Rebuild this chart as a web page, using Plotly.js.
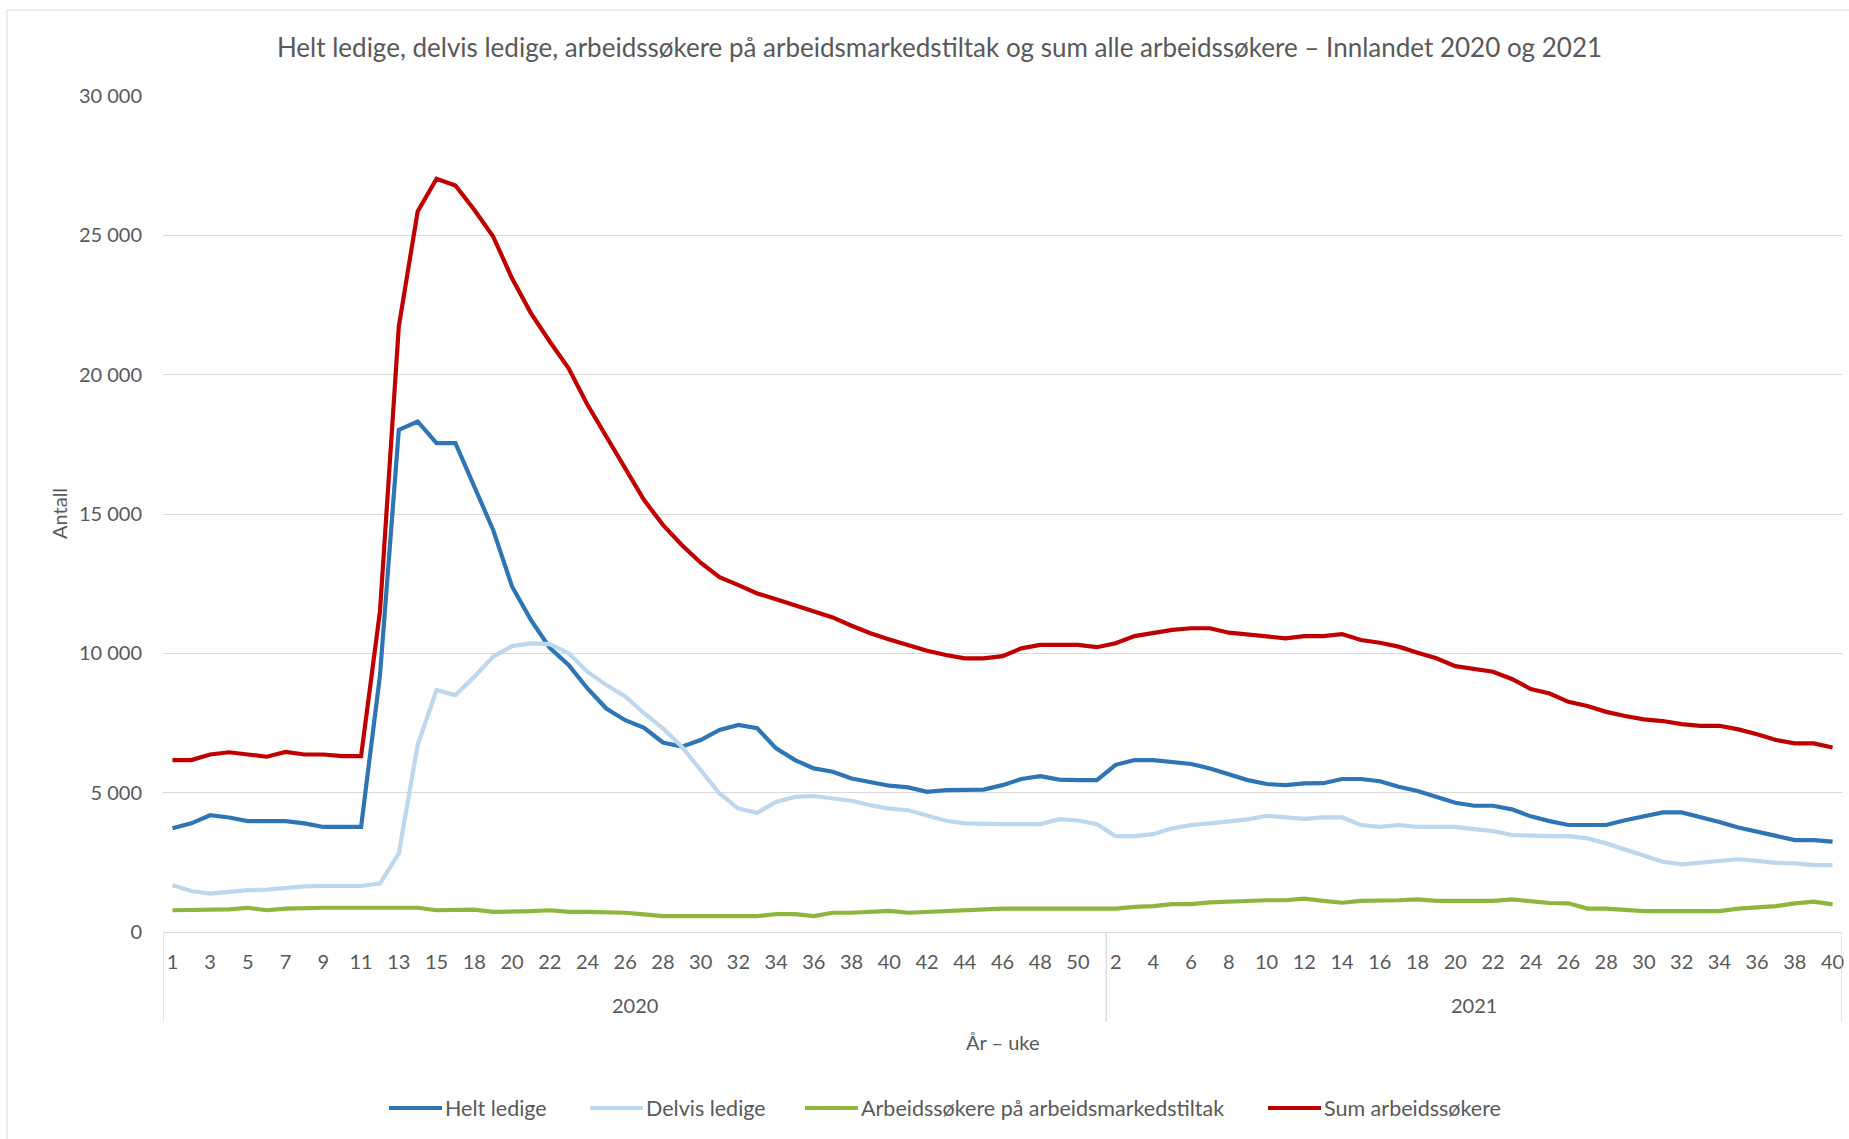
<!DOCTYPE html>
<html><head><meta charset="utf-8">
<script src="https://cdn.plot.ly/plotly-3.0.1.min.js"></script>
<style>html,body{margin:0;padding:0;background:#fff;} #chart{width:1849px;height:1139px;}</style>
</head><body><div id="chart"></div>
<script>
// ---------- data ----------
const years = ['2020', '2021'];
const weeks2020 = [1,2,3,4,5,6,7,8,9,10,11,12,13,14,15,16,18,19,20,21,22,23,24,25,26,27,28,29,30,31,32,33,34,35,36,37,38,39,40,41,42,43,44,45,46,47,48,49,50,51];
const weeks2021 = [2,3,4,5,6,7,8,9,10,11,12,13,14,15,16,17,18,19,20,21,22,23,24,25,26,27,28,29,30,31,32,33,34,35,36,37,38,39,40];

const heltLedige = [3720,3900,4190,4110,3980,3980,3980,3900,3770,3770,3770,9200,18020,18320,17540,17540,15980,14430,12400,11200,
  10200,9580,8740,8020,7600,7330,6800,6650,6890,7250,7430,7310,6590,6170,5870,5750,5510,5370,5250,5190,
  5030,5090,5110,5110,5270,5490,5590,5470,5450,5450,
  6000,6170,6170,6110,6030,5870,5670,5450,5310,5270,5330,5340,5490,5490,5410,5210,5060,4850,4640,4530,
  4530,4400,4150,3980,3840,3840,3840,4010,4160,4290,4290,4130,3950,3750,3600,3420,3300,3300,3240];

const delvisLedige = [1680,1470,1380,1440,1500,1520,1580,1640,1650,1650,1650,1740,2820,6710,8680,8500,9160,9880,10260,10360,
  10330,10000,9340,8860,8450,7850,7310,6650,5810,4970,4430,4280,4670,4850,4880,4790,4710,4550,4430,4370,
  4190,3990,3900,3870,3870,3870,3870,4050,4000,3870,
  3440,3440,3510,3720,3840,3900,3980,4040,4170,4110,4060,4110,4110,3840,3770,3840,3770,3770,3770,3690,
  3620,3480,3450,3440,3440,3360,3180,2960,2760,2520,2430,2480,2550,2610,2550,2480,2460,2400,2400];

const tiltak = [780,780,780,810,870,780,840,870,870,870,870,870,870,870,780,780,800,720,720,750,
  780,720,720,720,690,630,570,570,570,570,570,570,640,640,570,690,690,720,760,690,
  720,760,780,800,840,840,840,840,840,840,
  840,900,930,1000,1000,1060,1090,1140,1140,1140,1200,1120,1050,1120,1120,1140,1170,1120,1120,1120,
  1120,1170,1110,1040,1030,840,840,800,750,750,750,750,750,840,900,930,1030,1090,990];

const sumArbeidssokere = [6170,6170,6370,6450,6370,6290,6460,6370,6370,6310,6310,11500,21730,25860,27030,26790,25920,24960,23460,22210,
  21190,20230,18920,17780,16580,15500,14610,13890,13250,12730,12450,12150,11940,11730,11490,11290,10990,10720,10500,10300,
  10090,9940,9820,9820,9900,10180,10300,10300,10300,10220,
  10360,10620,10720,10840,10900,10900,10740,10680,10600,10540,10620,10620,10690,10480,10380,10240,10020,9820,9540,9430,
  9340,9080,8720,8560,8260,8110,7900,7750,7630,7570,7460,7400,7400,7270,7100,6890,6770,6770,6620];

const seriesNames = ['Helt ledige', 'Delvis ledige', 'Arbeidssøkere på arbeidsmarkedstiltak', 'Sum arbeidssøkere'];
const seriesColors = ['#2E75B6', '#BDD7EE', '#8DB63C', '#C00000'];
const seriesValues = [heltLedige, delvisLedige, tiltak, sumArbeidssokere];

const titleText = 'Helt ledige, delvis ledige, arbeidssøkere på arbeidsmarkedstiltak og sum alle arbeidssøkere – Innlandet 2020 og 2021';
const xTitle = 'År – uke';
const yTitle = 'Antall';

// ---------- layout constants ----------
const W = 1849, H = 1139;
const M = {l: 163, r: 7, t: 96, b: 207};
const PW = W - M.l - M.r, PH = H - M.t - M.b;
const px2x = px => (px - M.l) / PW;
const py2y = py => (H - M.b - py) / PH;

const FONT = 'Lato, "Open Sans", sans-serif';
const GREY = '#595959';
const LINEGREY = '#d9d9d9';

// ---------- categories ----------
const cats = weeks2020.map(w => years[0] + '-' + w).concat(weeks2021.map(w => years[1] + '-' + w));
const weekLabels = weeks2020.concat(weeks2021).map(String);
const tickvals = cats.filter((c, i) => i % 2 === 0);
const ticktext = weekLabels.filter((c, i) => i % 2 === 0);
const n20 = weeks2020.length, nAll = cats.length;

const traces = seriesValues.map((vals, k) => ({
  type: 'scatter', mode: 'lines', x: cats, y: vals, name: seriesNames[k],
  line: {color: seriesColors[k], width: 4.2, shape: 'linear'},
  showlegend: false, hoverinfo: 'x+y+name'
}));

const shapes = [];
const annotations = [];

// outer border
shapes.push({type: 'rect', xref: 'paper', yref: 'paper', x0: px2x(7), x1: px2x(1870), y0: py2y(1160), y1: py2y(10),
  line: {color: LINEGREY, width: 1}, fillcolor: 'rgba(0,0,0,0)', layer: 'below'});

// multi-level axis dividers
[-0.5, n20 - 0.5, nAll - 0.5].forEach(xv => {
  shapes.push({type: 'line', xref: 'x', yref: 'paper', x0: xv, x1: xv, y0: 0, y1: py2y(1022),
    line: {color: LINEGREY, width: 1.3}});
});

// year labels
annotations.push({xref: 'x', yref: 'paper', x: (n20 - 1) / 2, y: py2y(1005), text: years[0], showarrow: false,
  xanchor: 'center', yanchor: 'middle', font: {family: FONT, size: 20, color: GREY}});
annotations.push({xref: 'x', yref: 'paper', x: n20 + (nAll - n20 - 1) / 2, y: py2y(1005), text: years[1], showarrow: false,
  xanchor: 'center', yanchor: 'middle', font: {family: FONT, size: 20, color: GREY}});

// axis titles
annotations.push({xref: 'paper', yref: 'paper', x: 0.5, y: py2y(1042), text: xTitle, showarrow: false,
  xanchor: 'center', yanchor: 'middle', font: {family: FONT, size: 20, color: GREY}});
annotations.push({xref: 'paper', yref: 'paper', x: px2x(59), y: 0.5, text: yTitle, showarrow: false, textangle: -90,
  xanchor: 'center', yanchor: 'middle', font: {family: FONT, size: 20, color: GREY}});

// custom legend
const legendLineStart = [389, 590, 805, 1268];
const legendLineLen = 53;
const legendY = 1108;
seriesNames.forEach((nm, k) => {
  shapes.push({type: 'line', xref: 'paper', yref: 'paper', x0: px2x(legendLineStart[k]), x1: px2x(legendLineStart[k] + legendLineLen),
    y0: py2y(legendY), y1: py2y(legendY), line: {color: seriesColors[k], width: 4.2}});
  annotations.push({xref: 'paper', yref: 'paper', x: px2x(legendLineStart[k] + legendLineLen + 1), y: py2y(legendY),
    text: nm, showarrow: false, xanchor: 'left', yanchor: 'middle', font: {family: FONT, size: 21.5, color: GREY}});
});

const layout = {
  width: W, height: H,
  margin: M,
  paper_bgcolor: '#ffffff', plot_bgcolor: '#ffffff',
  separators: ', ',
  showlegend: false,
  font: {family: FONT, size: 20, color: GREY},
  title: {text: titleText, font: {family: FONT, size: 26, color: GREY},
    xref: 'container', x: 939.5 / W, xanchor: 'center', yref: 'container', y: 1 - 48 / H, yanchor: 'middle'},
  xaxis: {
    type: 'category', categoryorder: 'array', categoryarray: cats,
    range: [-0.5, nAll - 0.5],
    tickmode: 'array', tickvals: tickvals, ticktext: ticktext, tickangle: 0,
    ticks: '', showgrid: false, zeroline: false,
    showline: true, linecolor: LINEGREY, linewidth: 1.3,
    tickfont: {family: FONT, size: 20, color: GREY},
    ticklabelstandoff: 12
  },
  yaxis: {
    range: [0, 30000], tickmode: 'linear', tick0: 0, dtick: 5000, tickformat: ',d',
    ticks: '', showgrid: true, gridcolor: LINEGREY, gridwidth: 1.3, zeroline: false, showline: false,
    tickfont: {family: FONT, size: 20, color: GREY},
    ticklabelstandoff: 20
  },
  shapes: shapes,
  annotations: annotations
};

Plotly.newPlot('chart', traces, layout, {displayModeBar: false, responsive: false});
</script>
</body></html>
